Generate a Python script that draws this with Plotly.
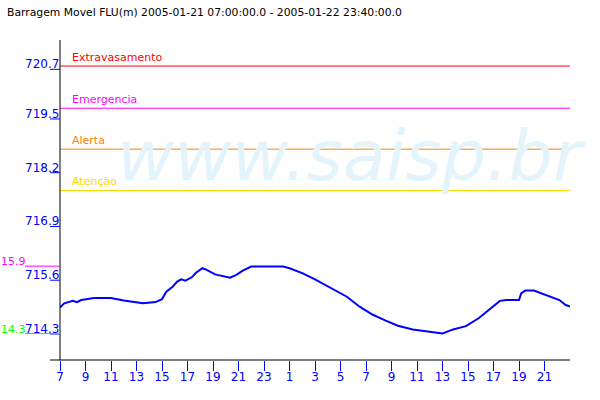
import plotly.graph_objects as go

# ---- data ----
times = [
    "2005-01-21 07:00", "2005-01-21 07:20", "2005-01-21 08:00", "2005-01-21 08:20",
    "2005-01-21 08:40", "2005-01-21 09:40", "2005-01-21 11:00", "2005-01-21 12:00",
    "2005-01-21 13:30", "2005-01-21 14:30", "2005-01-21 15:00", "2005-01-21 15:20",
    "2005-01-21 15:50", "2005-01-21 16:10", "2005-01-21 16:30", "2005-01-21 16:50",
    "2005-01-21 17:20", "2005-01-21 17:40", "2005-01-21 18:10", "2005-01-21 18:30",
    "2005-01-21 19:10", "2005-01-21 20:20", "2005-01-21 20:50", "2005-01-21 21:20",
    "2005-01-21 22:00", "2005-01-22 00:30", "2005-01-22 01:00", "2005-01-22 02:00",
    "2005-01-22 03:00", "2005-01-22 04:00", "2005-01-22 04:30", "2005-01-22 05:30",
    "2005-01-22 06:30", "2005-01-22 07:30", "2005-01-22 08:30", "2005-01-22 09:30",
    "2005-01-22 10:40", "2005-01-22 11:40", "2005-01-22 13:00", "2005-01-22 13:50",
    "2005-01-22 14:50", "2005-01-22 15:50", "2005-01-22 16:40", "2005-01-22 17:30",
    "2005-01-22 18:00", "2005-01-22 19:00", "2005-01-22 19:10", "2005-01-22 19:30",
    "2005-01-22 20:10", "2005-01-22 21:10", "2005-01-22 22:10", "2005-01-22 22:40",
    "2005-01-22 23:00",
]
levels = [
    714.94, 715.04, 715.10, 715.07,
    715.12, 715.17, 715.17, 715.11,
    715.04, 715.07, 715.14, 715.32,
    715.44, 715.56, 715.62, 715.59,
    715.67, 715.78, 715.89, 715.85,
    715.74, 715.66, 715.73, 715.83,
    715.93, 715.93, 715.89, 715.77,
    715.62, 715.46, 715.37, 715.20,
    714.96, 714.77, 714.63, 714.50,
    714.41, 714.37, 714.31, 714.41,
    714.49, 714.68, 714.90, 715.10,
    715.12, 715.12, 715.28, 715.35,
    715.35, 715.24, 715.12, 715.00,
    714.96,
]

x_tick_vals = [
    "2005-01-21 07:00", "2005-01-21 09:00", "2005-01-21 11:00", "2005-01-21 13:00",
    "2005-01-21 15:00", "2005-01-21 17:00", "2005-01-21 19:00", "2005-01-21 21:00",
    "2005-01-21 23:00", "2005-01-22 01:00", "2005-01-22 03:00", "2005-01-22 05:00",
    "2005-01-22 07:00", "2005-01-22 09:00", "2005-01-22 11:00", "2005-01-22 13:00",
    "2005-01-22 15:00", "2005-01-22 17:00", "2005-01-22 19:00", "2005-01-22 21:00",
]
x_tick_labels = ["7", "9", "11", "13", "15", "17", "19", "21", "23", "1",
                 "3", "5", "7", "9", "11", "13", "15", "17", "19", "21"]

y_tick_labels = ["714.3", "715.6", "716.9", "718.2", "719.5", "720.7"]

threshold_names = ["Extravasamento", "Emergencia", "Alerta", "Atenção"]
threshold_values = [720.78, 719.76, 718.77, 717.77]
threshold_colors = ["#ff0000", "#ff00ff", "#ff8000", "#ffd700"]

max_label, max_value = "15.9", 715.94
min_label, min_value = "14.3", 714.31

title_text = "Barragem Movel FLU(m) 2005-01-21 07:00:00.0 - 2005-01-22 23:40:00.0"
watermark = "www.saisp.br"

FONT = "DejaVu Sans"
BLUE = "#0000ff"
X0, X1 = -10 / 510, 1.0  # axis line extent in paper coords

fig = go.Figure()
fig.add_trace(go.Scatter(x=times, y=levels, mode="lines",
                         line=dict(color=BLUE, width=2), hoverinfo="skip",
                         showlegend=False))

shapes = []
annotations = []

# watermark
annotations.append(dict(text=watermark, xref="paper", yref="paper", x=0.5725, y=0.6375,
                        xanchor="center", yanchor="middle", showarrow=False,
                        font=dict(family=FONT, size=70, color="#e3f4fd", style="italic")))

# thresholds
for name, val, col in zip(threshold_names, threshold_values, threshold_colors):
    shapes.append(dict(type="line", xref="paper", yref="y", x0=0, x1=1, y0=val, y1=val,
                       line=dict(color=col, width=1), layer="above"))
    annotations.append(dict(text=name, xref="paper", yref="y", x=10 / 510, y=val,
                            xanchor="left", yanchor="bottom", showarrow=False,
                            font=dict(family=FONT, size=11, color=col)))

# axis lines
shapes.append(dict(type="line", xref="paper", yref="paper", x0=0, x1=0, y0=0, y1=1,
                   line=dict(color="black", width=1)))
shapes.append(dict(type="line", xref="paper", yref="paper", x0=X0, x1=X1, y0=0, y1=0,
                   line=dict(color="black", width=1)))

# y ticks
for lab in y_tick_labels:
    v = float(lab)
    shapes.append(dict(type="line", xref="paper", yref="y", x0=X0, x1=0, y0=v, y1=v,
                       line=dict(color=BLUE, width=1)))
    annotations.append(dict(text=lab, xref="paper", yref="y", x=0, y=v,
                            xanchor="right", yanchor="bottom", yshift=-4, xshift=1,
                            showarrow=False, font=dict(family=FONT, size=12, color=BLUE)))

# max / min markers
for lab, v, col in [(max_label, max_value, "#ff00ff"), (min_label, min_value, "#00ff00")]:
    shapes.append(dict(type="line", xref="paper", yref="y", x0=-35 / 510, x1=0, y0=v, y1=v,
                       line=dict(color=col, width=1)))
    annotations.append(dict(text=lab, xref="paper", yref="y", x=-60 / 510, y=v,
                            xanchor="left", yanchor="bottom", yshift=-4, xshift=-1,
                            showarrow=False, font=dict(family=FONT, size=11, color=col)))

# title
annotations.append(dict(text=title_text, xref="paper", yref="paper", x=-55 / 510,
                        y=1 + 28 / 320, xanchor="left", yanchor="middle", showarrow=False,
                        font=dict(family=FONT, size=10.8, color="black")))

fig.update_layout(
    width=600, height=400,
    margin=dict(l=60, r=30, t=40, b=40),
    paper_bgcolor="white", plot_bgcolor="white",
    font=dict(family=FONT, size=12),
    shapes=shapes, annotations=annotations,
    xaxis=dict(type="date", range=["2005-01-21 07:00", "2005-01-22 23:00"],
               showgrid=False, zeroline=False, showline=False,
               ticks="outside", ticklen=10, tickwidth=1, tickcolor=BLUE,
               tickvals=x_tick_vals, ticktext=x_tick_labels,
               ticklabelstandoff=-4,
               tickfont=dict(family=FONT, size=12, color=BLUE)),
    yaxis=dict(range=[713.67, 721.41], showgrid=False, zeroline=False,
               showline=False, showticklabels=False, ticks=""),
)

# remove the default 8px page margin so the figure sits at the window's corner
fig.write_html("out.html", config={"displayModeBar": False},
               post_script="document.body.style.margin='0';")
